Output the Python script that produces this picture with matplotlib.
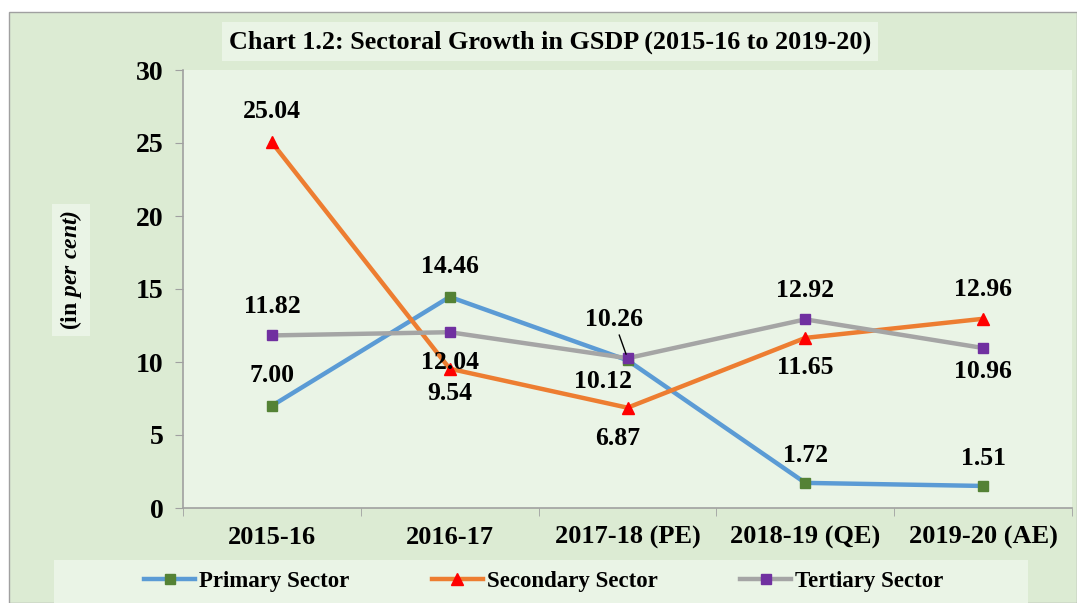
import matplotlib
matplotlib.use("Agg")
import matplotlib.pyplot as plt
from matplotlib.patches import Rectangle

categories = ["2015-16", "2016-17", "2017-18 (PE)", "2018-19 (QE)", "2019-20 (AE)"]
primary = [7.00, 14.46, 10.12, 1.72, 1.51]
secondary = [25.04, 9.54, 6.87, 11.65, 12.96]
tertiary = [11.82, 12.04, 10.26, 12.92, 10.96]
yticks = [0, 5, 10, 15, 20, 25, 30]

plt.rcParams['font.family'] = ['Liberation Serif', 'DejaVu Serif']
plt.rcParams['font.weight'] = 'bold'
plt.rcParams['mathtext.fontset'] = 'custom'
plt.rcParams['mathtext.rm'] = 'Liberation Serif:bold'
plt.rcParams['mathtext.bf'] = 'Liberation Serif:bold'
plt.rcParams['mathtext.it'] = 'Liberation Serif:italic:bold'
plt.rcParams['mathtext.bfit'] = 'Liberation Serif:italic:bold'

W, H = 1077, 603
fig = plt.figure(figsize=(W / 100, H / 100), dpi=100)
fig.patch.set_facecolor('white')

# outer frame
fig.patches.append(Rectangle((9 / W, 0), (W - 9) / W, (H - 12) / H, transform=fig.transFigure,
                             facecolor='#dcebd3', edgecolor='#a0a0a0', lw=1.0, zorder=-10))

ax = fig.add_axes([183 / W, (H - 508) / H, (1072 - 183) / W, (508 - 70) / H])
ax.set_facecolor('#eaf4e6')
x = list(range(len(categories)))

ax.plot(x, primary, color='#5b9bd5', lw=3.2, marker='s', ms=7.5, mfc='#548235', mec='#548235', zorder=3)
ax.plot(x, secondary, color='#ed7d31', lw=3.2, marker='^', ms=8.5, mfc='#ff0000', mec='#ff0000', zorder=3)
ax.plot(x, tertiary, color='#a5a5a5', lw=3.2, marker='s', ms=7.5, mfc='#7030a0', mec='#7030a0', zorder=4)

ax.set_xlim(-0.5, len(categories) - 0.5)
ax.set_ylim(0, 30)
ax.set_yticks(yticks)
ax.set_xticks(x)
ax.set_xticklabels(categories, fontsize=19, fontweight='bold')
ax.set_xticks([i - 0.5 for i in range(len(categories) + 1)], minor=True)
ax.tick_params(axis='x', which='major', length=0, pad=13)
ax.tick_params(axis='x', which='minor', length=6, color='#a0a0a0', direction='out')
ax.tick_params(axis='y', length=6, color='#a0a0a0', labelsize=20, pad=8)
for s in ['top', 'right']:
    ax.spines[s].set_visible(False)
for s in ['left', 'bottom']:
    ax.spines[s].set_color('#a0a0a0')
    ax.spines[s].set_linewidth(1.2)
for lab in ax.get_yticklabels():
    lab.set_fontweight('bold')

fs = 18.5
def lab(xi, v, dy, dx=0):
    ax.annotate(f"{v:.2f}", (xi, v), xytext=(dx, dy), textcoords='offset points',
                ha='center', va='center', fontsize=fs, fontweight='bold', zorder=6)

# primary labels
lab(0, primary[0], 22); lab(1, primary[1], 22); lab(2, primary[2], -15, -18)
lab(3, primary[3], 20); lab(4, primary[4], 20)
# secondary labels
lab(0, secondary[0], 22); lab(1, secondary[1], -18); lab(2, secondary[2], -22, -7)
lab(3, secondary[3], -21); lab(4, secondary[4], 21)
# tertiary labels
lab(0, tertiary[0], 21); lab(1, tertiary[1], -22)
lab(3, tertiary[3], 21); lab(4, tertiary[4], -17)
ax.annotate(f"{tertiary[2]:.2f}", (2, tertiary[2]), xytext=(-10, 28), textcoords='offset points',
            ha='center', va='center', fontsize=fs, fontweight='bold', zorder=6,
            arrowprops=dict(arrowstyle='-', color='black', lw=1, shrinkA=1, shrinkB=3))

# y label
fig.text(71 / W, 1 - 270 / H, r"(in $\mathbfit{per\ cent)}$", rotation=90, ha='center', va='center',
         fontsize=17, fontweight='bold',
         bbox=dict(boxstyle='square,pad=0.25', facecolor='#eaf4e6', edgecolor='none'))

# title
fig.patches.append(Rectangle((222 / W, 1 - 61 / H), (878 - 222) / W, (61 - 22) / H, transform=fig.transFigure,
                             facecolor='#eaf4e6', edgecolor='none', zorder=1))
fig.text(550 / W, 1 - 42 / H, "Chart 1.2: Sectoral Growth in GSDP (2015-16 to 2019-20)",
         ha='center', va='center', fontsize=18.8, fontweight='bold', zorder=2)

# legend
fig.patches.append(Rectangle((54 / W, 0), (1028 - 54) / W, (603 - 560) / H, transform=fig.transFigure,
                             facecolor='#eaf4e6', edgecolor='none', zorder=1))
handles = ax.get_lines()[:3]
fig.legend(handles, ["Primary Sector", "Secondary Sector", "Tertiary Sector"],
           loc='center', bbox_to_anchor=(544 / W, 1 - 581 / H), ncol=3, frameon=False,
           handlelength=2.2, columnspacing=3.6, handletextpad=0.2,
           prop={'weight': 'bold', 'size': 16.5})

fig.savefig("out.png", dpi=100, facecolor=fig.get_facecolor())
